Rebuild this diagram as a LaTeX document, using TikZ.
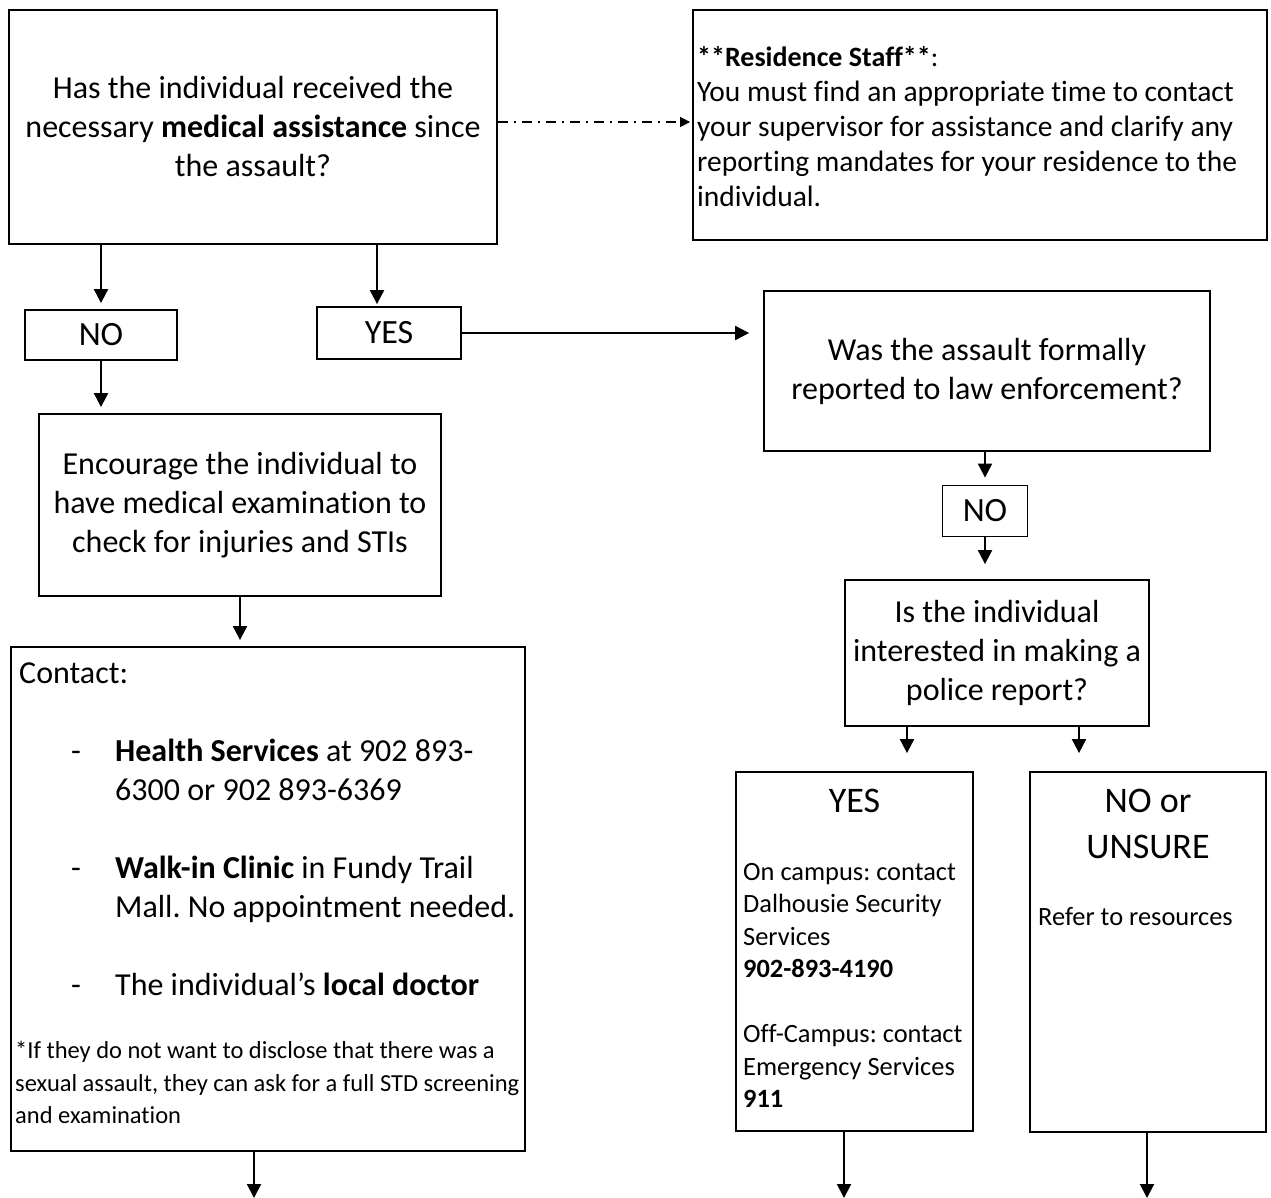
\documentclass[tikz,border=0pt]{standalone}
\usepackage{fontspec}
\setmainfont{Carlito}[Ligatures={TeX,NoCommon}]
\usetikzlibrary{positioning,arrows.meta}
\frenchspacing

\begin{document}
\begin{tikzpicture}[x=1pt, y=-1pt,
box/.style={draw, line width=1.8pt, inner sep=0pt, align=center},
txt/.style={inner sep=0pt, align=left},
main/.style={font=\fontsize{32}{39}\selectfont},
answer/.style={font=\fontsize{34}{44}\selectfont},
arrow/.style={-{Triangle[length=14pt,width=14pt]}, line width=2pt},
dotarrow/.style={-{Triangle[length=10pt,width=10pt]}, line width=1.3pt, dash pattern=on 10pt off 6pt on 2pt off 6pt}
]
\useasboundingbox (0,0) rectangle (1271,1198);

% left column
\node[box, main, minimum width=488pt, minimum height=234pt] (medical) at (253,127) {Has the individual received the\\necessary \textbf{medical assistance} since\\the assault?};
\node[box, minimum width=574pt, minimum height=230pt] (staff) at (980,125) {};
\node[txt, font=\fontsize{29.5}{35}\selectfont, anchor=north west] (stafftext) at (697,46) {{\fontsize{28}{33}\selectfont\textbf{**Residence Staff**}:}\\You must find an appropriate time to contact\\your supervisor for assistance and clarify any\\reporting mandates for your residence to the\\individual.};
\node[box, answer, minimum width=152pt, minimum height=50pt] (noA) at (101,335) {NO};
\node[box, answer, minimum width=144pt, minimum height=52pt] (yesA) at (389,333) {YES};
\node[box, main, minimum width=402pt, minimum height=182pt] (encourage) at (240,505) {Encourage the individual to\\have medical examination to\\check for injuries and STIs};
\node[box, minimum width=514pt, minimum height=504pt] (contact) at (268,899) {};
\node[txt, main, anchor=north west] (contacttext) at (19,663) {Contact:\\[39pt]
\makebox[96pt][l]{\hspace{52pt}-}\textbf{Health Services} at 902 893-\\
\hspace*{96pt}6300 or 902 893-6369\\[39pt]
\makebox[96pt][l]{\hspace{52pt}-}\textbf{Walk-in Clinic} in Fundy Trail\\
\hspace*{96pt}Mall. No appointment needed.\\[39pt]
\makebox[96pt][l]{\hspace{52pt}-}The individual’s \textbf{local doctor}};
\node[txt, font=\fontsize{24.5}{32.5}\selectfont, anchor=north west] (footnote) at (15,1041) {*If they do not want to disclose that there was a\\sexual assault, they can ask for a full STD screening\\and examination};

% right column
\node[box, main, minimum width=446pt, minimum height=160pt] (reported) at (987,371) {Was the assault formally\\reported to law enforcement?};
\node[box, answer, minimum width=85pt, minimum height=51pt] (noB) at (985,511) {NO};
\node[box, main, minimum width=304pt, minimum height=146pt] (interest) at (997,653) {Is the individual\\interested in making a\\police report?};
\node[box, minimum width=237pt, minimum height=359pt] (yesB) at (854.5,951.5) {};
\node[box, minimum width=236pt, minimum height=360pt] (unsure) at (1148,952) {};
\node[inner sep=0pt, font=\fontsize{36}{44}\selectfont, anchor=base] (yeshead) at (854.5,812) {YES};
\node[inner sep=0pt, align=center, font=\fontsize{36}{46}\selectfont, anchor=north] (unsurehead) at (1148,789) {NO or\\UNSURE};
\node[txt, font=\fontsize{26.4}{32.5}\selectfont, anchor=north west] (yesbody) at (743,863) {On campus: contact\\Dalhousie Security\\Services\\\textbf{902-893-4190}\\[32.5pt]Off-Campus: contact\\Emergency Services\\\textbf{911}};
\node[txt, font=\fontsize{26.4}{32.5}\selectfont, anchor=base west] (refer) at (1038,925) {Refer to resources};

% free ends at the bottom
\coordinate (leftend) at (254,1198);
\coordinate (yesend) at (844,1198);
\coordinate (unsureend) at (1147,1198);

% connectors
\draw[dotarrow, shorten >=2pt] ([yshift=5pt]medical.east) -- ([yshift=5pt]medical.east -| staff.west);
\draw[arrow, shorten >=6pt] (medical.south -| noA.north) -- (noA.north);
\draw[arrow, shorten >=2pt] ([xshift=-12pt]yesA.north |- medical.south) -- ([xshift=-12pt]yesA.north);
\draw[arrow, shorten >=6pt] (noA.south) -- (noA.south |- encourage.north);
\draw[arrow, shorten >=14pt] (yesA.east) -- (yesA.east -| reported.west);
\draw[arrow, shorten >=6pt] (encourage.south) -- (encourage.south |- contact.north);
\draw[arrow] (leftend |- contact.south) -- (leftend);
\draw[arrow, shorten >=7pt] (reported.south -| noB.north) -- (noB.north);
\draw[arrow, shorten >=15pt] (noB.south) -- (noB.south |- interest.north);
\draw[arrow, shorten >=18pt] ([xshift=-90pt]interest.south) -- ([xshift=-90pt]interest.south |- yesB.north);
\draw[arrow, shorten >=18pt] ([xshift=82pt]interest.south) -- ([xshift=82pt]interest.south |- unsure.north);
\draw[arrow] (yesend |- yesB.south) -- (yesend);
\draw[arrow] (unsureend |- unsure.south) -- (unsureend);
\end{tikzpicture}
\end{document}
